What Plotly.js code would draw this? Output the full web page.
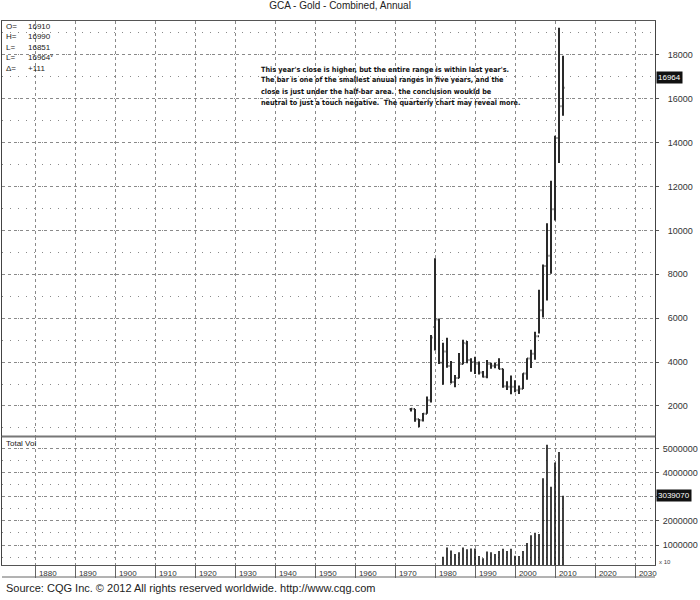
<!DOCTYPE html>
<html>
<head>
<meta charset="utf-8">
<script src="https://cdn.plot.ly/plotly-3.0.1.min.js"></script>
<style>body{margin:0;background:#fff}#chart{width:700px;height:600px}</style>
</head>
<body>
<div id="chart"></div>
<script>
// ---- data (price ×10, as in the CQG quote) ----
const years  = [1974,1975,1976,1977,1978,1979,1980,1981,1982,1983,1984,1985,1986,1987,1988,1989,1990,1991,1992,1993,1994,1995,1996,1997,1998,1999,2000,2001,2002,2003,2004,2005,2006,2007,2008,2009,2010,2011,2012];
const opens  = [1860,1860,1400,1350,1650,2260,5600,5940,3970,4480,3820,3090,3270,3910,4850,4100,4010,3930,3530,3330,3910,3830,3870,3690,2900,2880,2880,2720,2790,3480,4160,4380,5180,6360,8380,8840,10960,14210,15660];
const highs  = [1900,1860,1410,1680,2430,5240,8730,5990,4880,5110,4050,3410,4420,5020,4960,4170,4240,4030,3600,4090,3970,3960,4170,3700,3130,3390,3170,2930,3490,4170,4560,5380,7300,8450,10330,12260,14310,19230,17960];
const lows   = [1750,1280,1030,1290,1650,2160,4530,3910,2970,3740,3030,2850,3260,3900,3950,3560,3460,3440,3300,3260,3700,3720,3670,2830,2730,2530,2630,2550,2770,3200,3730,4110,5300,6030,6810,8020,10450,13070,15220];
const closes = [1870,1400,1350,1650,2260,5120,5940,3970,4480,3820,3090,3270,3910,4870,4100,4010,3930,3530,3330,3910,3830,3870,3690,2900,2880,2880,2720,2790,3480,4160,4380,5180,6360,8380,8840,10960,14210,15660,16500];

const volYears = [1982,1983,1984,1985,1986,1987,1988,1989,1990,1991,1992,1993,1994,1995,1996,1997,1998,1999,2000,2001,2002,2003,2004,2005,2006,2007,2008,2009,2010,2011,2012];
const volumes  = [520000,900000,770000,630000,700000,900000,830000,860000,860000,550000,450000,730000,700000,630000,750000,850000,750000,850000,560000,550000,750000,1080000,1400000,1510000,1460000,3760000,5150000,3410000,4420000,4850000,3039070];

const decadeTicks  = [1880,1890,1900,1910,1920,1930,1940,1950,1960,1970,1980,1990,2000,2010,2020,2030];
const decadeLabels = ['1880','1890','1900','1910','1920','1930','1940','1950','1960','1970','1980','1990','2000','2010','2020','2030'];
const priceTicks = [2000,4000,6000,8000,10000,12000,14000,16000,18000];
const volTicks   = [1000000,2000000,3000000,4000000,5000000];
const volLabels  = ['1000000','2000000','','4000000','5000000'];

const quoteLabels = ['O=','H=','L=','L=','Δ='];
const quoteValues = ['16910','16990','16851','16964<sup>v</sup>','+111'];
const lastPrice = 16964;
const lastVolume = 3039070;

const titleText = 'GCA - Gold - Combined, Annual';
const noteLines = [
  "This year's close is higher, but the entire range is within last year's.",
  "The bar is one of the smallest anuual ranges in five years, and the",
  "close is just under the half-bar area.  the conclusion woukld be",
  "neutral to just a touch negative.  The quarterly chart may reveal more."
];
const sourceText = 'Source: CQG Inc. © 2012 All rights reserved worldwide. http://www.cqg.com';

// ---- layout geometry ----
const W = 700, H = 600;
const M = {l: 2, r: 45, t: 21, b: 35};
const PH = H - M.t - M.b;
const PW = W - M.l - M.r;
const py = y => (H - M.b - y) / PH;   // pixel row -> paper y
const px = x => (x - M.l) / PW;       // pixel col -> paper x

const FONT = 'Liberation Sans, Arial, sans-serif';
const GRID = '#8a8a8a';

const traces = [
  {
    type: 'ohlc', x: years, open: opens, high: highs, low: lows, close: closes,
    xaxis: 'x2', yaxis: 'y',
    increasing: {line: {color: '#2a2a2a', width: 2}},
    decreasing: {line: {color: '#2a2a2a', width: 2}},
    tickwidth: 0.35, hoverinfo: 'skip', showlegend: false
  },
  {
    type: 'bar', x: volYears, y: volumes, xaxis: 'x', yaxis: 'y2',
    marker: {color: '#111', line: {width: 0}}, width: 0.4,
    hoverinfo: 'skip', showlegend: false
  }
];

const xCommon = {
  range: [1871.75, 2035], showgrid: false, zeroline: false,
  showline: true, mirror: true, linecolor: '#555', linewidth: 1,
  rangeslider: {visible: false}, fixedrange: true
};

const annotations = [];
annotations.push({
  xref: 'paper', yref: 'paper', x: px(4), y: py(20), xanchor: 'left', yanchor: 'top',
  text: quoteLabels.join('<br>'), showarrow: false, align: 'left',
  font: {family: FONT, size: 8, color: '#222'}
});
annotations.push({
  xref: 'paper', yref: 'paper', x: px(26), y: py(20), xanchor: 'left', yanchor: 'top',
  text: quoteValues.join('<br>'), showarrow: false, align: 'left',
  font: {family: FONT, size: 8, color: '#222'}
});
noteLines.forEach((s, i) => {
  annotations.push({
    xref: 'paper', yref: 'paper', x: px(259), y: py(69 + 11 * i), xanchor: 'left', yanchor: 'middle',
    text: '<b>' + s + '</b>', showarrow: false, align: 'left',
    font: {family: 'Liberation Sans Narrow, DejaVu Sans Condensed, Arial Narrow, ' + FONT, size: 7.2, color: '#111'}
  });
});
annotations.push({
  xref: 'paper', yref: 'y', x: 1, y: lastPrice, xanchor: 'left', yanchor: 'middle', xshift: 1,
  text: String(lastPrice), showarrow: false, bgcolor: '#111', borderpad: 1,
  font: {family: FONT, size: 8, color: '#fff'}
});
annotations.push({
  xref: 'paper', yref: 'y2', x: 1, y: lastVolume, xanchor: 'left', yanchor: 'middle', xshift: 1,
  text: String(lastVolume), showarrow: false, bgcolor: '#111', borderpad: 1,
  font: {family: FONT, size: 8, color: '#fff'}
});
annotations.push({
  xref: 'paper', yref: 'paper', x: px(4), y: py(437), xanchor: 'left', yanchor: 'top',
  text: 'Total Vol', showarrow: false, font: {family: FONT, size: 8, color: '#222'}
});
annotations.push({
  xref: 'paper', yref: 'paper', x: 1, y: py(562), xanchor: 'left', yanchor: 'middle', xshift: 2,
  text: 'x 10', showarrow: false, font: {family: FONT, size: 6, color: '#444'}
});
annotations.push({
  xref: 'paper', yref: 'paper', x: px(4), y: py(588), xanchor: 'left', yanchor: 'middle',
  text: sourceText, showarrow: false, font: {family: FONT, size: 11, color: '#222'}
});

const layout = {
  width: W, height: H, margin: M,
  paper_bgcolor: '#fff', plot_bgcolor: '#fff',
  font: {family: FONT, size: 9, color: '#222'},
  title: {text: titleText, x: 340 / W, xref: 'container', xanchor: 'center',
          y: 0.997, yanchor: 'top', font: {family: FONT, size: 10, color: '#222'}},
  showlegend: false,
  xaxis: Object.assign({}, xCommon, {
    anchor: 'y2', tickmode: 'array',
    tickvals: decadeTicks.map(d => d + 3.2), ticktext: decadeLabels,
    ticks: '', ticklen: 0, tickfont: {family: FONT, size: 8, color: '#333'},
    minor: {tickmode: 'array', tickvals: decadeTicks, ticks: 'outside', ticklen: 12,
            tickcolor: '#666', tickwidth: 1, showgrid: true, gridcolor: GRID, griddash: 'dot', gridwidth: 1}
  }),
  xaxis2: Object.assign({}, xCommon, {
    anchor: 'y', matches: 'x', showticklabels: false, ticks: '',
    tickmode: 'array', tickvals: decadeTicks.map(d => d + 3.2),
    minor: {tickmode: 'array', tickvals: decadeTicks, ticks: '', showgrid: true,
            gridcolor: GRID, griddash: 'dot', gridwidth: 1}
  }),
  yaxis: {
    domain: [py(436), 1], range: [633, 19540], side: 'right', anchor: 'x2',
    tickmode: 'array', tickvals: priceTicks, tickformat: 'd',
    showgrid: true, gridcolor: GRID, griddash: 'dot', gridwidth: 1,
    zeroline: false, showline: true, mirror: true, linecolor: '#444', linewidth: 1,
    ticks: 'outside', ticklen: 3, tickcolor: '#555', ticklabelstandoff: 7,
    tickfont: {family: FONT, size: 9, color: '#333'},
    minor: {dtick: 1000, showgrid: true, gridcolor: GRID, griddash: '1px,7px', gridwidth: 1},
    fixedrange: true
  },
  yaxis2: {
    domain: [0, py(437)], range: [174000, 5470000], side: 'right', anchor: 'x',
    tickmode: 'array', tickvals: volTicks, ticktext: volLabels,
    showgrid: true, gridcolor: GRID, griddash: 'dot', gridwidth: 1,
    zeroline: false, showline: true, mirror: true, linecolor: '#444', linewidth: 1,
    ticks: 'outside', ticklen: 3, tickcolor: '#555', ticklabelstandoff: 2,
    tickfont: {family: FONT, size: 9, color: '#333'},
    minor: {dtick: 500000, showgrid: true, gridcolor: GRID, griddash: '1px,7px', gridwidth: 1},
    fixedrange: true
  },
  shapes: [
    {type: 'line', xref: 'paper', yref: 'paper', x0: 0, x1: 1, y0: py(577), y1: py(577),
     line: {color: '#666', width: 1}},
    {type: 'line', xref: 'paper', yref: 'paper', x0: 0, x1: 1, y0: py(436.5), y1: py(436.5),
     line: {color: '#777', width: 2}}
  ],
  annotations: annotations
};

Plotly.newPlot('chart', traces, layout, {staticPlot: true, displayModeBar: false});
</script>
</body>
</html>
